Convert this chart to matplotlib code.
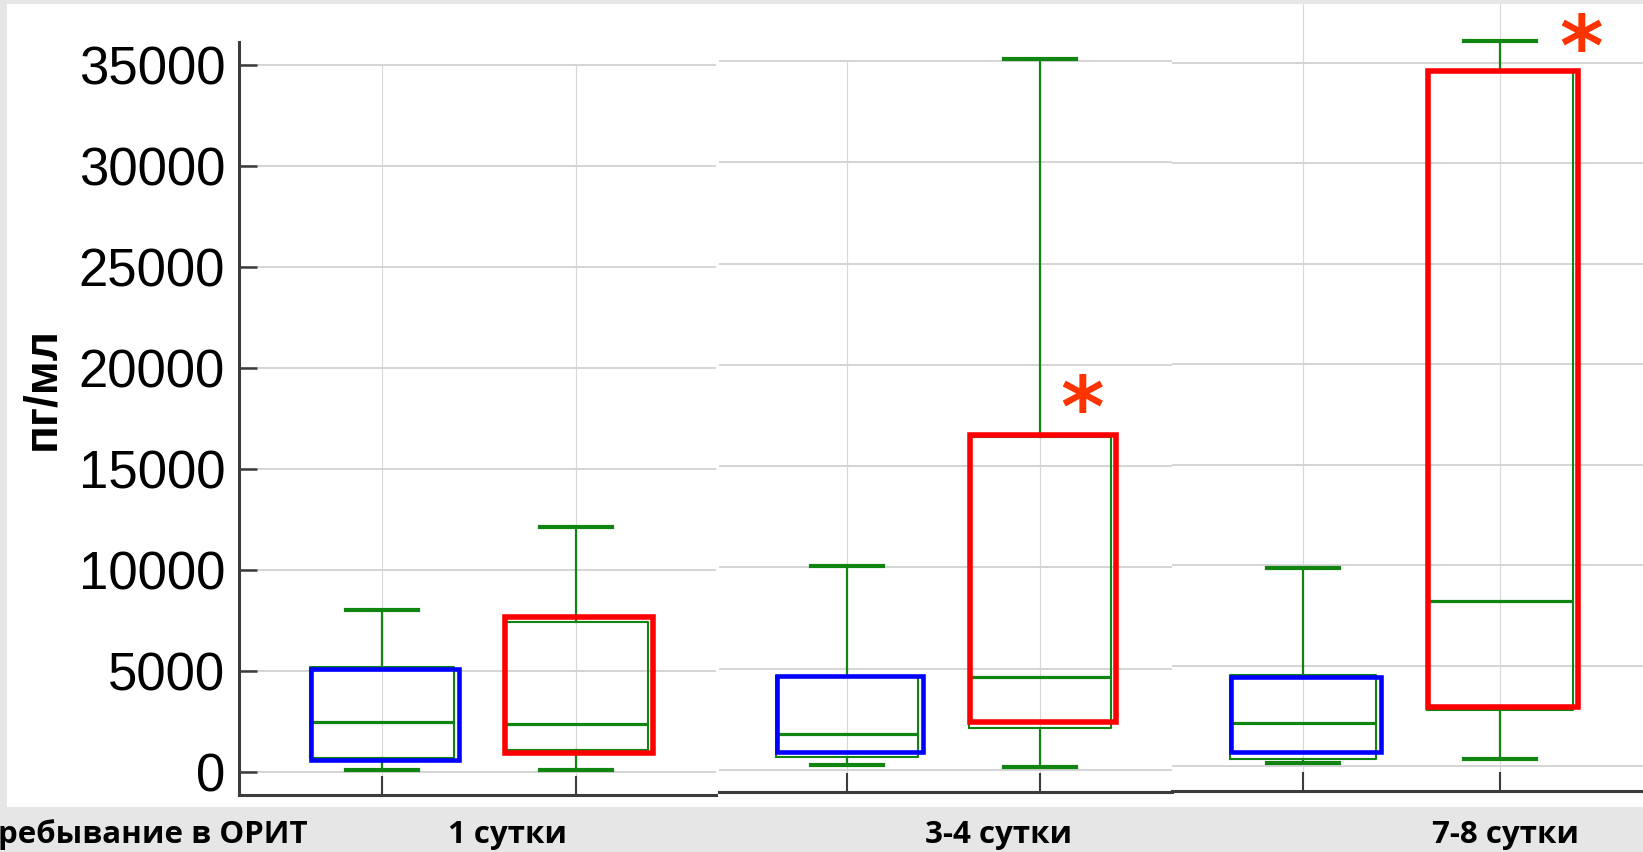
import numpy as np
import matplotlib
matplotlib.use("Agg")
import matplotlib.pyplot as plt
from matplotlib.patches import Rectangle

# подписи периодов
periods = ["1 сутки", "3-4 сутки", "7-8 сутки"]

# группа 1 (синяя рамка): нижний ус, Q1, медиана, Q3, верхний ус
g1_whislo = [100, 250, 150]
g1_q1 = [700, 650, 350]
g1_med = [2500, 1800, 2150]
g1_q3 = [5200, 4650, 4550]
g1_whishi = [8000, 10050, 9850]
g1_frame_lo = [600, 880, 700]
g1_frame_hi = [5100, 4650, 4450]

# группа 2 (красная рамка)
g2_whislo = [100, 150, 350]
g2_q1 = [1100, 2050, 2800]
g2_med = [2400, 4600, 8200]
g2_q3 = [7450, 16450, 34600]
g2_whishi = [12150, 35100, 36050]
g2_frame_lo = [950, 2350, 2950]
g2_frame_hi = [7650, 16550, 34600]

# значимые различия: отметка "*" над второй группой
star_y = [None, 17650, 35550]

yticks = np.arange(0, 35001, 5000)

W, H = 1643, 852
GREEN = "#118511"
AXC = "#3c3c3c"

fig = plt.figure(figsize=(W / 100, H / 100), dpi=100, facecolor="#e6e6e6")
fig.patches.append(Rectangle((7 / W, 1 - 807 / H), 1, (807 - 4) / H,
                             transform=fig.transFigure, facecolor="white",
                             edgecolor="none", zorder=-10))

# left, right, top, bottom (px), y-pixel of 0 and of 35000, x-pixel of the two boxes
layout = [
    (239, 716, 42, 795, 772, 65, 382, 576),
    (719, 1172, 10, 792, 770, 61, 847, 1040),
    (1172, 1643, 4, 791, 766, 62.5, 1303, 1500),
]

for i, (left, right, top, bottom, y0, y35, c1, c2) in enumerate(layout):
    ax = fig.add_axes([left / W, 1 - bottom / H, (right - left) / W, (bottom - top) / H])
    ax.set_facecolor("white")
    ax.patch.set_alpha(0)
    scale = (y0 - y35) / 35000
    ax.set_ylim(-(bottom - y0) / scale, 35000 + (y35 - top) / scale)
    unit = c2 - c1
    ax.set_xlim(1 - (c1 - left) / unit, 2 + (right - c2) / unit)

    ax.set_axisbelow(True)
    ax.set_yticks(yticks)
    ax.yaxis.grid(True, color="#d4d4d4", lw=1.4)
    vtop = ax.get_ylim()[1] if i == 2 else 35000
    ax.vlines([1, 2], ax.get_ylim()[0], vtop, color="#d8d8d8", lw=0.8, zorder=0.5)

    for s in ["top", "right", "left"]:
        ax.spines[s].set_visible(False)
    ax.spines["bottom"].set_color(AXC)
    ax.spines["bottom"].set_linewidth(2.2)
    ax.set_xticks([1, 2])
    ax.set_xticklabels(["", ""])
    ax.tick_params(axis="x", direction="in", length=14, width=1.5, color=AXC)

    if i == 0:
        ax.spines["left"].set_visible(True)
        ax.spines["left"].set_color(AXC)
        ax.spines["left"].set_linewidth(2.2)
        ax.tick_params(axis="y", direction="in", length=13, width=1.8, color=AXC, pad=10)
        ax.set_yticklabels([str(v) for v in yticks], family="Liberation Sans", fontsize=38)
    else:
        ax.tick_params(axis="y", length=0, labelleft=False)

    stats = [
        dict(whislo=g1_whislo[i], q1=g1_q1[i], med=g1_med[i], q3=g1_q3[i], whishi=g1_whishi[i]),
        dict(whislo=g2_whislo[i], q1=g2_q1[i], med=g2_med[i], q3=g2_q3[i], whishi=g2_whishi[i]),
    ]
    ax.bxp(stats, positions=[1, 2], widths=0.74, capwidths=0.37, showfliers=False,
           manage_ticks=False,
           boxprops=dict(color=GREEN, lw=1.5),
           whiskerprops=dict(color=GREEN, lw=1.6),
           capprops=dict(color=GREEN, lw=3),
           medianprops=dict(color=GREEN, lw=2.3))

    fw = 0.76
    ax.add_patch(Rectangle((1 - fw / 2 + 0.015, g1_frame_lo[i]), fw, g1_frame_hi[i] - g1_frame_lo[i],
                           fill=False, edgecolor="#0000ff", lw=3.3, zorder=3))
    ax.add_patch(Rectangle((2 - fw / 2 + 0.015, g2_frame_lo[i]), fw, g2_frame_hi[i] - g2_frame_lo[i],
                           fill=False, edgecolor="#ff0000", lw=4, zorder=3))

    if star_y[i] is not None:
        sx = 2.22 if i == 1 else 2.41
        ax.text(sx, star_y[i], "*", color="#ff3300", fontsize=60, fontweight="bold",
                family="DejaVu Sans", ha="center", va="center", zorder=4)

fig.text(42 / W, 1 - 388 / H, "пг/мл", rotation=90, ha="center", va="center",
         family="Liberation Sans", fontweight="bold", fontsize=33)

fig.text(-2 / W, 1 - 835 / H, "ребывание в ОРИТ", ha="left", va="center",
         family="Open Sans", fontweight="bold", fontsize=22.5)
for label, x in zip(periods, [508, 999, 1506]):
    fig.text(x / W, 1 - 835 / H, label, ha="center", va="center",
             family="Open Sans", fontweight="bold", fontsize=22.5)

fig.savefig("out.png", dpi=100, facecolor=fig.get_facecolor())
